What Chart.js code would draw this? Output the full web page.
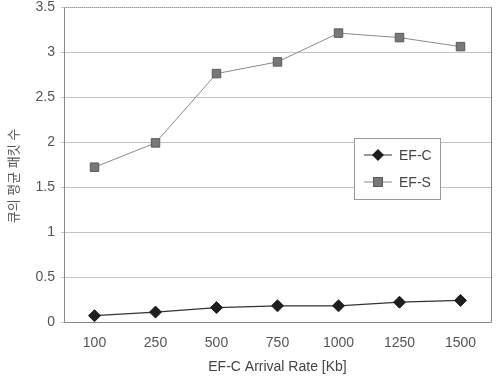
<!DOCTYPE html>
<html>
<head>
<meta charset="utf-8">
<script src="https://cdn.jsdelivr.net/npm/chart.js@4"></script>
<style>
  html, body { margin: 0; padding: 0; background: #fff; }
  #wrap { width: 498px; height: 376px; }
</style>
</head>
<body>
<div id="wrap"><canvas id="myChart" width="498" height="376"></canvas></div>
<script>
const rates = ["100", "250", "500", "750", "1000", "1250", "1500"];
const efC = [0.07, 0.11, 0.16, 0.18, 0.18, 0.22, 0.24];
const efS = [1.72, 1.99, 2.76, 2.89, 3.21, 3.16, 3.06];
const yTicks = [0, 0.5, 1, 1.5, 2, 2.5, 3, 3.5];
const yTitle = "큐의 평균 패킷 수";

const FONT = "'Liberation Sans', 'Noto Sans CJK KR', sans-serif";

// legend box drawn inside the plot, like the original figure
const boxLegend = {
	id: "boxLegend",
	afterDraw(chart) {
		const ctx = chart.ctx;
		const x = 354, y = 138, w = 86, h = 61;
		ctx.save();
		ctx.fillStyle = "#fff";
		ctx.fillRect(x, y, w, h);
		ctx.strokeStyle = "#999";
		ctx.lineWidth = 1;
		ctx.strokeRect(x + 0.5, y + 0.5, w, h);
		chart.data.datasets.forEach((ds, i) => {
			const cy = y + 17 + i * 27;
			ctx.strokeStyle = ds.borderColor;
			ctx.lineWidth = 1;
			ctx.beginPath();
			ctx.moveTo(x + 10, cy);
			ctx.lineTo(x + 38, cy);
			ctx.stroke();
			ctx.fillStyle = ds.pointBackgroundColor;
			ctx.strokeStyle = ds.pointBorderColor;
			if (ds.pointStyle === "rectRot") {
				ctx.beginPath();
				ctx.moveTo(x + 24, cy - 6);
				ctx.lineTo(x + 30, cy);
				ctx.lineTo(x + 24, cy + 6);
				ctx.lineTo(x + 18, cy);
				ctx.closePath();
				ctx.fill();
			} else {
				ctx.fillRect(x + 19, cy - 5, 10, 10);
				ctx.strokeRect(x + 19.5, cy - 4.5, 9, 9);
			}
			ctx.fillStyle = "#444";
			ctx.font = "14px " + FONT;
			ctx.textBaseline = "middle";
			ctx.fillText(ds.label, x + 45, cy + 1);
		});
		ctx.restore();
	}
};

// frame round the plot: solid sides, dotted top; plus the rotated y title
const frame = {
	id: "frame",
	beforeDatasetsDraw(chart) {
		const { left, right, top, bottom } = chart.chartArea;
		const ctx = chart.ctx;
		ctx.save();
		ctx.strokeStyle = "#888";
		ctx.lineWidth = 1;
		ctx.beginPath();
		ctx.moveTo(left + 0.5, top);
		ctx.lineTo(left + 0.5, bottom + 0.5);
		ctx.lineTo(right + 0.5, bottom + 0.5);
		ctx.lineTo(right + 0.5, top);
		ctx.stroke();
		ctx.setLineDash([1, 1]);
		ctx.strokeStyle = "#999";
		ctx.beginPath();
		ctx.moveTo(left, top + 0.5);
		ctx.lineTo(right, top + 0.5);
		ctx.stroke();
		ctx.setLineDash([]);

		ctx.translate(14, 176);
		ctx.rotate(-Math.PI / 2);
		ctx.fillStyle = "#555";
		ctx.font = "13px " + FONT;
		ctx.textAlign = "center";
		ctx.textBaseline = "middle";
		ctx.fillText(yTitle, 0, 0);
		ctx.restore();
	}
};

window.addEventListener("load", setup);

function setup() {
	const ctx = document.getElementById("myChart").getContext("2d");
	new Chart(ctx, {
		type: "line",
		data: {
			labels: rates,
			datasets: [
				{
					label: "EF-C",
					data: efC,
					borderColor: "#333",
					borderWidth: 1.3,
					pointStyle: "rectRot",
					pointRadius: 6,
					pointBackgroundColor: "#1e1e1e",
					pointBorderColor: "#1e1e1e",
					pointBorderWidth: 1,
					tension: 0,
				},
				{
					label: "EF-S",
					data: efS,
					borderColor: "#8a8a8a",
					borderWidth: 1,
					pointStyle: "rect",
					pointRadius: 6,
					pointBackgroundColor: "#787878",
					pointBorderColor: "#5a5a5a",
					pointBorderWidth: 1,
					tension: 0,
				},
			],
		},
		options: {
			responsive: false,
			animation: false,
			layout: { padding: { left: 0, right: 4, top: 7, bottom: 0 } },
			plugins: {
				legend: { display: false },
				tooltip: { enabled: false },
			},
			scales: {
				x: {
					offset: true,
					grid: { display: false, drawTicks: false },
					border: { display: false },
					ticks: { color: "#555", font: { family: FONT, size: 14 }, padding: 13 },
					title: {
						display: true,
						text: "EF-C Arrival Rate [Kb]",
						color: "#444",
						font: { family: FONT, size: 14 },
						padding: { top: 4, bottom: 0 },
					},
					afterFit(s) { s.height = 54; s.paddingLeft = 0; s.paddingRight = 0; },
				},
				y: {
					min: 0,
					max: 3.5,
					afterBuildTicks(s) { s.ticks = yTicks.map(v => ({ value: v })); },
					grid: { color: "#c4c4c4", drawTicks: true, tickLength: 3, lineWidth: 1 },
					border: { display: false },
					ticks: {
						color: "#555",
						font: { family: FONT, size: 14 },
						padding: 6,
						callback: (v) => String(v),
					},
					afterFit(s) { s.width = 64; s.paddingTop = 0; s.paddingBottom = 0; },
				},
			},
		},
		plugins: [frame, boxLegend],
	});
}
</script>
</body>
</html>
